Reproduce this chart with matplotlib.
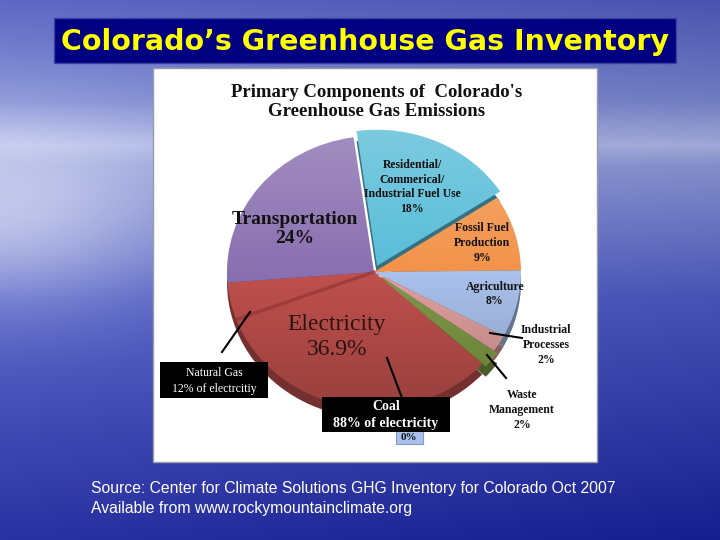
"""Colorado greenhouse gas inventory slide: pie of emission components."""

import matplotlib
import matplotlib.pyplot as plt
import numpy as np
from matplotlib.colors import to_rgb
from matplotlib.patches import Rectangle

matplotlib.use("Agg")

# ── Data ──────────────────────────────────────────────────────────────────────

SECTORS = [
    "Residential/Commercial/Industrial Fuel Use",
    "Fossil Fuel Production",
    "Agriculture",
    "Industrial Processes",
    "Waste Management",
    "Electricity (coal)",
    "Electricity (natural gas)",
    "Transportation",
]
ELECTRICITY = 36.9
COAL_SHARE = 0.88
SHARES = [18, 9, 8, 2, 2, ELECTRICITY * COAL_SHARE, ELECTRICITY * (1 - COAL_SHARE), 24]
COLORS = ["#58bdd8", "#f3934a", "#a9c1ec", "#e0a09e", "#7f9a45", "#c0504d", "#c0504d", "#8a70b0"]
EXPLODE = [0.05, 0, 0, 0, 0.03, 0, 0, 0]

TITLE = "Colorado\u2019s Greenhouse Gas Inventory"
CHART_TITLE = "Primary Components of  Colorado's\nGreenhouse Gas Emissions"
SOURCE = [
    "Source: Center for Climate Solutions GHG Inventory for Colorado Oct 2007",
    "Available from www.rockymountainclimate.org",
]

W, H = 720, 540
fig = plt.figure(figsize=(7.2, 5.4), dpi=100)

# ── Slide background ─────────────────────────────────────────────────────────

bg = fig.add_axes([0, 0, 1, 1])
bg.set_xlim(0, W)
bg.set_ylim(H, 0)
bg.axis("off")

yy, xx = np.mgrid[0:H, 0:W]
stops_y = [0, 100, 145, 165, 300, 540]
stops_c = ["#5e68c4", "#8590d6", "#b4bcea", "#98a2de", "#5a66c8", "#2a32a2"]
rgb = np.array([to_rgb(c) for c in stops_c])
img = np.zeros((H, W, 3))
for k in range(3):
    img[..., k] = np.interp(yy, stops_y, rgb[:, k])
glow = np.exp(-((xx / 170.0) ** 2) - ((yy - 210) / 90.0) ** 2) * 0.5
img = img + (1 - img) * glow[..., None]
shade = (xx / W) * 0.08
img = np.clip(img - shade[..., None], 0, 1)
bg.imshow(img, extent=[0, W, H, 0], aspect="auto", zorder=0)

# title bar
bg.add_patch(Rectangle((54, 18), 622, 45, facecolor="#000080", edgecolor="#3a44a0", lw=1, zorder=1))
bg.text(365, 42, TITLE, color="#ffff00", fontsize=20.5, fontweight="bold",
        family="DejaVu Sans", ha="center", va="center", zorder=2)

# white chart panel
bg.add_patch(Rectangle((153, 68), 444, 394, facecolor="white", edgecolor="#9a9aa8", lw=1, zorder=1))

for i, line in enumerate(SOURCE):
    bg.text(91, 489 + i * 20, line, color="white", fontsize=11.3, family="Liberation Sans",
            ha="left", va="center", zorder=2)

# ── Pie ───────────────────────────────────────────────────────────────────────

CX, CY, RX, RY = 374, 272, 147, 136
LIM = 1.2
pie_ax = fig.add_axes([(CX - RX * LIM) / W, (H - CY - RY * LIM) / H,
                       2 * RX * LIM / W, 2 * RY * LIM / H])
pie_ax.axis("off")

dark = [tuple(np.array(to_rgb(c)) * 0.6) for c in COLORS]
# rim (3D thickness)
pie_ax.pie(SHARES, colors=dark, startangle=98, counterclock=False, explode=EXPLODE,
           radius=1.0, center=(0, -0.075), wedgeprops=dict(linewidth=0))
wedges, _ = pie_ax.pie(SHARES, colors=COLORS, startangle=98, counterclock=False,
                       explode=EXPLODE, radius=1.0, wedgeprops=dict(linewidth=0))
pie_ax.set_aspect("auto")

# soft top-light gradient on every wedge
grad = np.zeros((200, 2, 4))
t = np.linspace(0, 1, 200)[:, None]
grad[..., :3] = np.where(t[..., None] < 0.5, 1.0, 0.0)
grad[..., 3] = np.abs(t - 0.5) * 0.45
for w in wedges:
    im = pie_ax.imshow(grad, extent=[-1.1, 1.1, -1.1, 1.1], origin="upper", aspect="auto", zorder=3)
    im.set_clip_path(w)
pie_ax.set_xlim(-LIM, LIM)
pie_ax.set_ylim(-LIM, LIM)

# divider between natural gas and coal
split = np.deg2rad(98 - 360 * sum(SHARES[:6]) / sum(SHARES))
pie_ax.plot([0, np.cos(split)], [0, np.sin(split)], color="#8e3431", lw=2.5, alpha=0.6, zorder=4)

# ── Labels (overlay) ──────────────────────────────────────────────────────────

top = fig.add_axes([0, 0, 1, 1])
top.set_xlim(0, W)
top.set_ylim(H, 0)
top.axis("off")
top.patch.set_alpha(0)

serif = "Liberation Serif"

top.text(377, 102, CHART_TITLE, fontsize=13.5, fontweight="bold", family=serif,
         ha="center", va="center", linespacing=1.15, color="#111111")


def lbl(x, y, s, size=8.5, weight="bold", color="#111111", ls=1.3, z=5):
    top.text(x, y, s, fontsize=size, fontweight=weight, family=serif, ha="center",
             va="center", color=color, linespacing=ls, zorder=z)


lbl(412, 187, "Residential/\nCommerical/\nIndustrial Fuel Use\n18%")
lbl(482, 243, "Fossil Fuel\nProduction\n9%")
lbl(495, 294, "Agriculture\n8%")
lbl(546, 345, "Industrial\nProcesses\n2%")
lbl(522, 410, "Waste\nManagement\n2%")
lbl(295, 229, "Transportation\n24%", size=14, ls=1.2)
lbl(337, 337, "Electricity\n36.9%", size=17, weight="normal", color="#2a1412", ls=1.2)

# leader lines
for (x0, y0, x1, y1) in [(222, 352, 250, 312), (387, 358, 402, 398),
                         (490, 333, 522, 338), (487, 355, 506, 378)]:
    top.plot([x0, x1], [y0, y1], color="black", lw=1.5, zorder=6)

top.add_patch(Rectangle((396, 430), 27, 14, facecolor="#a9c1ec", edgecolor="#7f9acb", lw=0.8, zorder=6))
lbl(409, 438, "0%", size=8, z=6.5)
top.add_patch(Rectangle((160, 362), 108, 36, facecolor="black", zorder=7))
top.text(214, 381, "Natural Gas\n12% of electrcitiy", color="white", fontsize=8.5, family=serif,
         ha="center", va="center", linespacing=1.35, zorder=8)
top.add_patch(Rectangle((322, 397), 128, 35, facecolor="black", zorder=7))
top.text(386, 415, "Coal\n88% of electricity", color="white", fontsize=10, family=serif,
         fontweight="bold", ha="center", va="center", linespacing=1.3, zorder=8)

fig.savefig("out.png", dpi=100)
